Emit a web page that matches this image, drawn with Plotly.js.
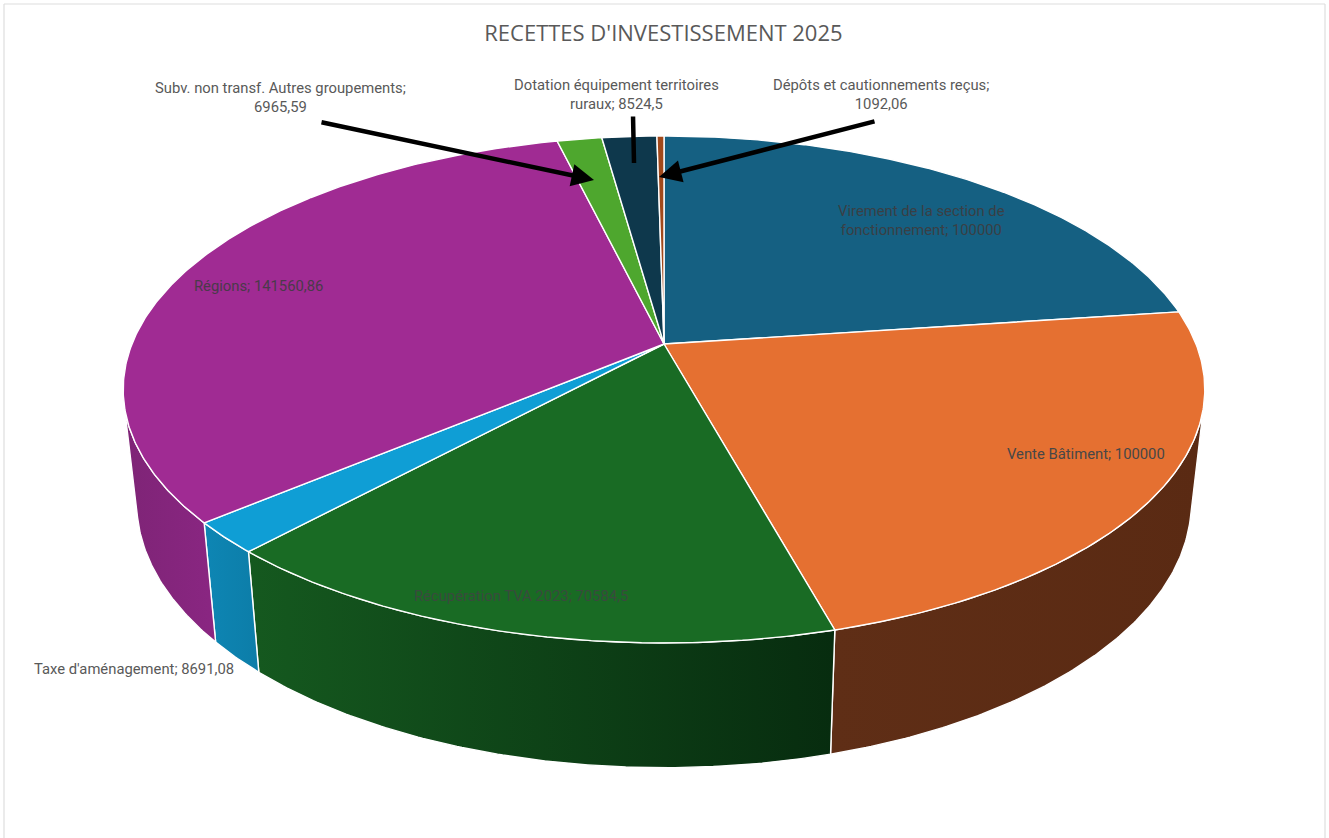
<!DOCTYPE html>
<html lang="fr">
<head>
<meta charset="utf-8">
<script src="https://cdn.plot.ly/plotly-3.0.1.min.js"></script>
<style>html,body{margin:0;padding:0;background:#fff;overflow:hidden}#chart{width:1329px;height:838px}</style>
</head>
<body>
<div id="chart"></div>
<script>
// ---- data ----
const categories = [
  "Virement de la section de fonctionnement",
  "Vente Bâtiment",
  "Récupération TVA 2023",
  "Taxe d'aménagement",
  "Régions",
  "Subv. non transf. Autres groupements",
  "Dotation équipement territoires ruraux",
  "Dépôts et cautionnements reçus"
];
const values = [100000, 100000, 70584.5, 8691.08, 141560.86, 6965.59, 8524.5, 1092.06];
const topColors = ["#156082", "#E57031", "#196B24", "#0F9ED5", "#A02B93", "#4EA72E", "#0E384C", "#A1491B"];
const wallColors = [
  ["#0E4058", "#0E4058"], ["#5F2E16", "#5A2A13"], ["#15591F", "#072C0F"], ["#0E86B4", "#0C7DA8"],
  ["#7E2476", "#8A2682"], ["#2F6A1C", "#2F6A1C"], ["#0A2836", "#0A2836"], ["#6A3012", "#6A3012"]
];
const chartTitle = "RECETTES D'INVESTISSEMENT 2025";

// ---- label layout ----
const labelBreaks = ["Virement de la section de<br>fonctionnement; ", "Vente Bâtiment; ", "Récupération TVA 2023; ",
  "Taxe d'aménagement; ", "Régions; ", "Subv. non transf. Autres groupements;<br>",
  "Dotation équipement territoires<br>ruraux; ", "Dépôts et cautionnements reçus;<br>"];
const labelAnchors = [[921, 220], [1086, 454], [521, 596], [134, 669], [258, 286], [280, 97], [616, 94], [881, 94]];
const labelColors = ["#3A3F45", "#474747", "#3A4A3E", "#595959", "#4A3A4A", "#595959", "#595959", "#595959"];
const leaders = [
  {from: [320, 122], to: [594, 180], head: 2},
  {from: [633, 115], to: [634, 163], head: 0},
  {from: [876, 121], to: [659, 177], head: 2}
];

// ---- projection of the tilted pie onto the page ----
const apex = {x: 664, y: 344}, persp = 0.1795, scaleX = 532, scaleY = 245.3;
const base = {x: 664, y: 455, sx: 0.975, sy: 1.046};
function rim(deg) {
  const t = deg * Math.PI / 180, u = Math.sin(t), v = Math.cos(t), w = 1 + persp * v;
  return [apex.x + scaleX * u / w, apex.y - scaleY * v / w];
}
function lower(p) {
  return [apex.x + base.sx * (p[0] - apex.x), base.y + base.sy * (p[1] - apex.y)];
}
function arc(a0, a1) {
  const n = Math.max(2, Math.ceil((a1 - a0) * 2)), pts = [];
  for (let i = 0; i <= n; i++) pts.push(rim(a0 + (a1 - a0) * i / n));
  return pts;
}
// the wall is seen only between the two angles where its edge is tangent to the rim
function silhouetteCross(deg) {
  const p = rim(deg), q = rim(deg + 0.01), l = lower(p);
  return (l[0] - p[0]) * (q[1] - p[1]) - (l[1] - p[1]) * (q[0] - p[0]);
}
let visibleFrom = 180, visibleTo = 180;
const frontSign = Math.sign(silhouetteCross(180));
while (Math.sign(silhouetteCross(visibleFrom - 0.1)) === frontSign && visibleFrom > 0) visibleFrom -= 0.1;
while (Math.sign(silhouetteCross(visibleTo + 0.1)) === frontSign && visibleTo < 360) visibleTo += 0.1;

const total = values.reduce((s, v) => s + v, 0);
let running = 0;
const slices = values.map(v => { const a0 = running / total * 360; running += v; return [a0, running / total * 360]; });

function polyTrace(pts, name, extra) {
  return Object.assign({
    type: "scatter", mode: "lines", x: pts.map(p => p[0]), y: pts.map(p => p[1]),
    fill: "toself", line: {color: "#FFFFFF", width: 1.4}, name: name, showlegend: false,
    hoverinfo: "text", text: name, hoveron: "fills"
  }, extra);
}

const fmt = v => String(v).replace(".", ",");
const wallTraces = [];
slices.forEach((s, i) => {
  const a0 = Math.max(s[0], visibleFrom), a1 = Math.min(s[1], visibleTo);
  if (a1 <= a0) return;
  const top = arc(a0, a1);
  const bottom = top.map(lower).reverse();
  wallTraces.push(polyTrace(top.concat(bottom, [top[0]]), categories[i] + "; " + fmt(values[i]), {
    fillgradient: {type: "horizontal", colorscale: [[0, wallColors[i][0]], [1, wallColors[i][1]]]}
  }));
});
const topTraces = slices.map((s, i) => {
  const pts = [[apex.x, apex.y]].concat(arc(s[0], s[1]), [[apex.x, apex.y]]);
  return polyTrace(pts, categories[i] + "; " + fmt(values[i]), {fillcolor: topColors[i]});
});

const annotations = categories.map((c, i) => ({
  x: labelAnchors[i][0], y: labelAnchors[i][1], xref: "x", yref: "y", showarrow: false,
  text: labelBreaks[i] + fmt(values[i]), align: "center", xanchor: "center", yanchor: "middle",
  font: {family: "Roboto, sans-serif", size: 14.8, color: labelColors[i]}
})).concat(leaders.map(l => ({
  x: l.to[0], y: l.to[1], ax: l.from[0], ay: l.from[1], xref: "x", yref: "y", axref: "x", ayref: "y",
  text: "", showarrow: true, arrowhead: l.head, arrowsize: 1, arrowwidth: 4.5, arrowcolor: "#000000", standoff: 0, startstandoff: 0
})));

const hidden = {visible: false, fixedrange: true, showgrid: false, zeroline: false};
Plotly.newPlot("chart", wallTraces.concat(topTraces), {
  width: 1329, height: 838, margin: {l: 0, r: 0, t: 0, b: 0},
  paper_bgcolor: "#FFFFFF", plot_bgcolor: "#FFFFFF", showlegend: false,
  title: {text: chartTitle, x: 0.4992, xref: "paper", xanchor: "center", y: 0.9606, yref: "container", yanchor: "middle",
    font: {family: "'Open Sans', sans-serif", size: 22, color: "#595959"}},
  xaxis: Object.assign({range: [0, 1329]}, hidden),
  yaxis: Object.assign({range: [838, 0]}, hidden),
  shapes: [
    {type: "line", x0: 4, x1: 1325, y0: 4, y1: 4, line: {color: "#DEDEDE", width: 1.2}, layer: "below"},
    {type: "line", x0: 4, x1: 4, y0: 4, y1: 838, line: {color: "#DEDEDE", width: 1.2}, layer: "below"},
    {type: "line", x0: 1325, x1: 1325, y0: 4, y1: 838, line: {color: "#DEDEDE", width: 1.2}, layer: "below"}
  ],
  annotations: annotations
}, {displayModeBar: false});
</script>
</body>
</html>
